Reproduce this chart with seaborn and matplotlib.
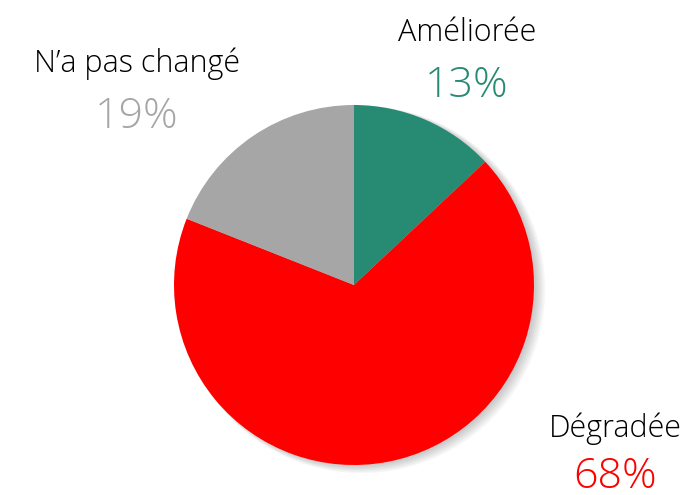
import matplotlib
matplotlib.use("Agg")

import matplotlib.pyplot as plt
import seaborn as sns

labels = ["Améliorée", "Dégradée", "N\u2019a pas changé"]
values = [13, 68, 19]
pct_labels = ["13%", "68%", "19%"]
colors = ["#268B72", "#FF0000", "#A6A6A6"]

# label positions in pixels (x centre, baseline of name, baseline of pct)
label_pos = [(467, 41, 97), (615, 437, 488), (137, 72, 128)]

W, H = 692, 495

sns.set_theme(style="white")
plt.rcParams["font.family"] = ["Open Sans", "DejaVu Sans"]

fig = plt.figure(figsize=(W / 100, H / 100), dpi=100)
cx, cy, r = 354, 285, 180
ax = fig.add_axes([(cx - r) / W, (H - cy - r) / H, 2 * r / W, 2 * r / H])

# soft shadow: stacked translucent copies of the pie
for k in range(6):
    off = 0.012 + 0.006 * k
    ax.pie(values, radius=1.0 + 0.004 * k, center=(off, -off * 0.6),
           startangle=90, counterclock=False,
           colors=["black"] * 3,
           wedgeprops=dict(alpha=0.035, linewidth=0))

ax.pie(values, radius=1.0, startangle=90, counterclock=False,
       colors=colors, wedgeprops=dict(linewidth=0))
ax.set_xlim(-1, 1)
ax.set_ylim(-1, 1)
ax.set_aspect("equal")
ax.axis("off")

for name, pct, col, (x, yb1, yb2) in zip(labels, pct_labels, colors, label_pos):
    fig.text(x / W, 1 - yb1 / H, name, ha="center", va="baseline",
             fontsize=22, color="black", fontweight=300)
    fig.text(x / W, 1 - yb2 / H, pct, ha="center", va="baseline",
             fontsize=31, color=col, fontweight=300)

fig.savefig("out.png", dpi=100)
